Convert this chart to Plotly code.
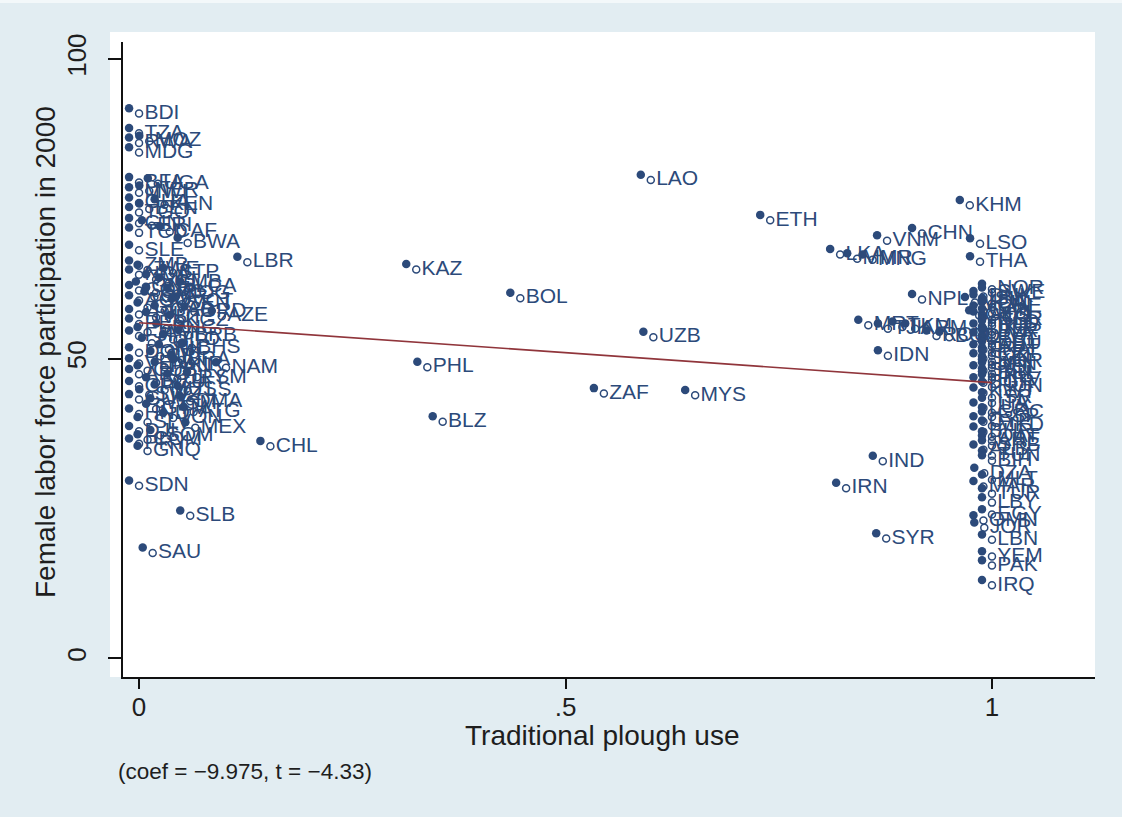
import plotly.graph_objects as go

# ---------------- data ----------------
countries = [
    "BDI", "TZA", "MOZ", "RWA", "MDG",
    "BFA", "UGA", "MWI", "NER", "KEN", "GHA", "TGO", "BEN", "GIN", "ERI",
    "CAF", "TCD", "SLE", "BWA", "LBR", "ZMB",
    "ZWE", "NGA", "STP", "MLI", "GMB", "GNB", "COD", "SYC", "COG", "CMR",
    "AGO", "SEN", "CIV", "GAB", "HTI", "VUT", "KGZ", "PER", "PNG", "JAM",
    "FJI", "TTO", "COL", "NIC", "DOM", "CRI", "BRA", "VEN", "PAN", "CUB",
    "ARG", "URY", "ECU", "CPV", "MUS", "SWZ", "GUY", "WSM", "GTM", "HND",
    "TON", "SLV", "MEX", "DJI", "SOM", "COM", "PRY", "GNQ",
    "LCA", "VCT", "GRD", "BRB", "BHS", "KIR", "FSM", "TLS", "DMA", "ATG",
    "SDN", "SLB", "SAU", "CHL", "NAM", "AZE",
    "KAZ", "BOL", "PHL", "BLZ", "LAO", "UZB", "ZAF", "MYS", "ETH",
    "LKA", "MMR", "MNG", "VNM", "CHN", "KHM", "LSO", "THA", "NPL", "MRT",
    "TJK", "TKM", "ARM", "ROU", "BGD", "IDN", "IND", "IRN", "SYR", "MDA", "GEO",
    "NOR", "SWE", "DNK", "ISL", "FIN", "CHE", "CAN", "NZL", "AUS", "GBR",
    "NLD", "RUS", "UKR", "BLR", "LVA", "LTU", "EST", "DEU", "AUT", "FRA",
    "PRT", "CZE", "SVK", "KOR", "JPN", "POL", "SVN", "BEL", "IRL", "HRV",
    "BGR", "HUN", "KWT", "ISR", "ITA", "LUX", "GRC", "ESP", "CYP", "MKD",
    "BHR", "QAT", "ARE", "SRB", "ALB", "TUN", "BIH", "DZA", "MLT", "MAR",
    "TUR", "LBY", "EGY", "OMN", "JOR", "LBN", "YEM", "PAK", "IRQ",
]
plough = [
    0.0, 0.0, 0.012, 0.0, 0.0,
    0.0, 0.022, 0.0, 0.012, 0.03, 0.0, 0.0, 0.012, 0.0, 0.015,
    0.036, 0.0, 0.0, 0.057, 0.127, 0.0,
    0.01, 0.0, 0.04, 0.02, 0.035, 0.008, 0.0, 0.02, 0.045, 0.018,
    0.0, 0.05, 0.01, 0.03, 0.0, 0.02, 0.048, 0.0, 0.032, 0.01,
    0.0, 0.04, 0.015, 0.035, 0.0, 0.025, 0.05, 0.0, 0.03, 0.01,
    0.0, 0.045, 0.02, 0.0, 0.03, 0.012, 0.0, 0.025, 0.02, 0.0,
    0.04, 0.01, 0.066, 0.0, 0.025, 0.01, 0.0, 0.01,
    0.06, 0.055, 0.065, 0.058, 0.062, 0.052, 0.068, 0.057, 0.06, 0.064,
    0.0, 0.06, 0.016, 0.154, 0.102, 0.097,
    0.325, 0.447, 0.338, 0.356, 0.600, 0.603, 0.545, 0.652, 0.740,
    0.822, 0.842, 0.860, 0.877, 0.918, 0.974, 0.986, 0.986, 0.918, 0.855,
    0.878, 0.895, 0.910, 0.935, 0.950, 0.878, 0.872, 0.829, 0.876, 0.980, 0.985,
    1.0, 1.0, 0.99, 0.99, 1.0, 1.0, 0.99, 1.0, 0.99, 1.0,
    1.0, 1.0, 0.99, 1.0, 1.0, 0.99, 1.0, 1.0, 1.0, 0.99,
    1.0, 1.0, 0.99, 1.0, 1.0, 1.0, 0.99, 1.0, 1.0, 1.0,
    0.99, 1.0, 0.99, 1.0, 1.0, 0.99, 1.0, 1.0, 0.99, 1.0,
    0.99, 1.0, 1.0, 1.0, 0.99, 1.0, 1.0, 0.991, 1.0, 0.99,
    1.0, 1.0, 1.0, 0.99, 0.991, 1.0, 1.0, 1.0, 1.0,
]
flfp = [
    90.9, 87.6, 86.3, 86.0, 84.4,
    79.4, 79.2, 77.7, 78.0, 75.7, 76.0, 74.4, 75.0, 72.6, 72.2,
    71.2, 71.0, 68.1, 69.3, 66.1, 65.5,
    64.8, 64.0, 64.3, 63.2, 62.6, 62.0, 61.4, 61.0, 60.9, 60.3,
    59.7, 59.1, 58.5, 58.0, 57.4, 56.9, 56.4, 55.8, 55.0, 54.4,
    53.8, 53.2, 52.6, 51.5, 51.0, 50.4, 49.8, 49.2, 48.6, 48.0,
    47.4, 46.6, 46.0, 45.4, 44.8, 44.0, 43.2, 42.5, 41.6, 40.8,
    40.1, 39.4, 38.5, 37.9, 37.2, 36.5, 35.8, 34.6,
    62.0, 59.5, 57.8, 53.9, 51.8, 49.0, 46.9, 44.6, 42.9, 41.1,
    28.8, 23.8, 17.6, 35.4, 48.5, 57.1,
    64.9, 60.1, 48.6, 39.5, 79.8, 53.6, 44.2, 43.9, 73.1,
    67.4, 66.7, 66.5, 69.7, 70.9, 75.6, 69.2, 66.2, 59.9, 55.6,
    55.0, 55.3, 55.0, 53.8, 53.6, 50.5, 32.9, 28.4, 20.0, 59.4, 57.2,
    61.6, 61.0, 60.4, 59.8, 59.2, 58.6, 58.0, 57.5, 57.0, 56.5,
    56.0, 55.5, 55.0, 54.5, 54.0, 53.5, 53.0, 52.5, 52.0, 51.5,
    51.0, 50.5, 50.0, 49.5, 49.0, 48.5, 48.0, 47.5, 47.0, 46.5,
    46.0, 45.3, 44.3, 43.5, 42.6, 41.8, 41.0, 40.3, 39.5, 38.8,
    37.8, 37.0, 36.3, 35.5, 34.8, 33.8, 33.0, 30.9, 29.8, 28.7,
    27.5, 26.0, 24.0, 23.0, 21.8, 19.8, 17.0, 15.5, 12.2,
]
intercept = 56.0
coef = -9.975
t_stat = -4.33
x_ticks = [0, 0.5, 1]
x_tick_labels = ["0", ".5", "1"]
y_ticks = [0, 50, 100]
y_tick_labels = ["0", "50", "100"]
x_title = "Traditional plough use"
y_title = "Female labor force participation in 2000"
note = "(coef = \u22129.975, t = \u22124.33)"

# ---------------- style ----------------
FONT = "Liberation Sans, Arial, Helvetica, sans-serif"
NAVY = "#2c4a7a"
MAROON = "#90353b"
BG = "#e2edf2"
TXT = "#1e1e1e"
JIT_X = -0.0117   # offset of the filled marker relative to the labelled one
JIT_Y = 0.9

fig = go.Figure()
fig.add_trace(go.Scatter(
    x=[p + JIT_X for p in plough], y=[f + JIT_Y for f in flfp],
    mode="markers", marker=dict(color=NAVY, size=8.5, line=dict(width=0)),
    hoverinfo="skip", showlegend=False))
fig.add_trace(go.Scatter(
    x=plough, y=flfp, mode="markers+text", text=countries,
    textposition="middle right",
    textfont=dict(family=FONT, size=21, color=NAVY),
    marker=dict(symbol="circle-open", size=7, color=NAVY, line=dict(width=1.5)),
    showlegend=False))
x_line = [min(plough), max(plough)]
fig.add_trace(go.Scatter(
    x=x_line, y=[intercept + coef * v for v in x_line], mode="lines",
    line=dict(color=MAROON, width=1.6), showlegend=False))

W, H = 1122, 817
ML, MR, MT, MB = 123, 27, 42, 140
PW, PH = W - ML - MR, H - MT - MB

fig.update_layout(
    width=W, height=H,
    margin=dict(l=ML, r=MR, t=MT, b=MB, pad=0, autoexpand=False),
    paper_bgcolor=BG, plot_bgcolor="white",
    font=dict(family=FONT, color=TXT),
    showlegend=False,
    xaxis=dict(
        range=[-0.0188, 1.1208], tickvals=x_ticks, ticktext=x_tick_labels,
        ticks="outside", ticklen=10, tickwidth=1.5, tickcolor="#111",
        showline=True, linecolor="#111", linewidth=1.5,
        showgrid=False, zeroline=False, ticklabelstandoff=-4,
        tickfont=dict(size=26, color=TXT),
    ),
    yaxis=dict(
        range=[-3.09, 102.84], tickvals=y_ticks, ticktext=y_tick_labels,
        tickangle=-90,
        ticks="outside", ticklen=13, tickwidth=1.5, tickcolor="#111",
        showline=True, linecolor="#111", linewidth=1.5,
        showgrid=False, zeroline=False, ticklabelstandoff=12,
        tickfont=dict(size=26, color=TXT),
    ),
    shapes=[
        dict(type="rect", xref="paper", yref="paper",
             x0=(110 - ML) / PW, x1=1, y0=0, y1=1 + 10 / PH,
             fillcolor="white", line=dict(width=0), layer="below"),
        dict(type="rect", xref="paper", yref="paper",
             x0=-ML / PW, x1=1 + MR / PW, y0=1 + (MT - 3) / PH, y1=1 + MT / PH,
             fillcolor="#f3f8fa", line=dict(width=0), layer="below"),
    ],
    annotations=[
        dict(text=x_title, xref="paper", yref="paper",
             x=(602 - ML) / PW, y=(H - MB - 735) / PH,
             xanchor="center", yanchor="middle", showarrow=False,
             font=dict(size=28, color=TXT)),
        dict(text=y_title, xref="paper", yref="paper", textangle=-90,
             x=(45 - ML) / PW, y=(H - MB - 352) / PH,
             xanchor="center", yanchor="middle", showarrow=False,
             font=dict(size=28, color=TXT)),
        dict(text=note, xref="paper", yref="paper",
             x=(116 - ML) / PW, y=(H - MB - 771) / PH,
             xanchor="left", yanchor="middle", showarrow=False,
             font=dict(size=22.5, color=TXT)),
    ],
)

fig.write_html("out.html",
               config={"displayModeBar": False},
               post_script="document.body.style.margin='0';document.body.style.overflow='hidden';")
